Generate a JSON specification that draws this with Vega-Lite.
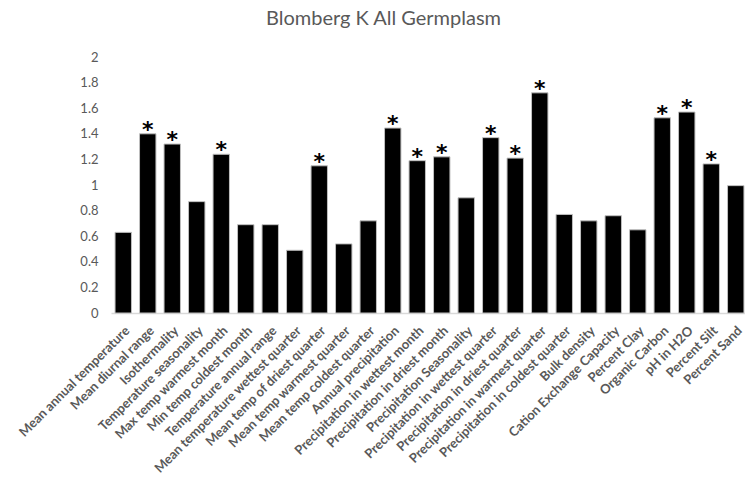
{
  "$schema": "https://vega.github.io/schema/vega-lite/v6.json",
  "autosize": "none",
  "width": 637,
  "height": 256,
  "padding": {"left": 111, "top": 57, "right": 0, "bottom": 180},
  "background": "white",
  "title": {
    "text": "Blomberg K All Germplasm",
    "font": "Lato",
    "fontSize": 20,
    "fontWeight": "normal",
    "color": "#595959",
    "anchor": "middle",
    "dx": -46,
    "offset": 22
  },
  "data": {
    "values": [
      {"trait": "Mean annual temperature", "k": 0.63, "sig": ""},
      {"trait": "Mean diurnal range", "k": 1.40, "sig": "*"},
      {"trait": "Isothermality", "k": 1.32, "sig": "*"},
      {"trait": "Temperature seasonality", "k": 0.87, "sig": ""},
      {"trait": "Max temp warmest month", "k": 1.24, "sig": "*"},
      {"trait": "Min temp coldest month", "k": 0.69, "sig": ""},
      {"trait": "Temperature annual range", "k": 0.69, "sig": ""},
      {"trait": "Mean temperature wettest quarter", "k": 0.49, "sig": ""},
      {"trait": "Mean temp of driest quarter", "k": 1.15, "sig": "*"},
      {"trait": "Mean temp warmest quarter", "k": 0.54, "sig": ""},
      {"trait": "Mean temp coldest quarter", "k": 0.72, "sig": ""},
      {"trait": "Annual precipitation", "k": 1.445, "sig": "*"},
      {"trait": "Precipitation in wettest month", "k": 1.19, "sig": "*"},
      {"trait": "Precipitation in driest month", "k": 1.22, "sig": "*"},
      {"trait": "Precipitation Seasonality", "k": 0.90, "sig": ""},
      {"trait": "Precipitation in wettest quarter", "k": 1.37, "sig": "*"},
      {"trait": "Precipitation in driest quarter", "k": 1.21, "sig": "*"},
      {"trait": "Precipitation in warmest quarter", "k": 1.72, "sig": "*"},
      {"trait": "Precipitation in coldest quarter", "k": 0.77, "sig": ""},
      {"trait": "Bulk density", "k": 0.72, "sig": ""},
      {"trait": "Cation Exchange Capacity", "k": 0.76, "sig": ""},
      {"trait": "Percent Clay", "k": 0.65, "sig": ""},
      {"trait": "Organic Carbon", "k": 1.525, "sig": "*"},
      {"trait": "pH in H2O", "k": 1.57, "sig": "*"},
      {"trait": "Percent Silt", "k": 1.165, "sig": "*"},
      {"trait": "Percent Sand", "k": 0.995, "sig": ""}
    ]
  },
  "encoding": {
    "x": {
      "field": "trait",
      "type": "nominal",
      "sort": null,
      "scale": {"paddingInner": 0.33, "paddingOuter": 0.165},
      "axis": {
        "title": null,
        "labelAngle": -45,
        "labelFont": "Lato",
        "labelFontSize": 13,
        "labelFontWeight": "bold",
        "labelColor": "#595959",
        "labelPadding": 11,
        "labelLimit": 300,
        "ticks": false,
        "domainColor": "#d9d9d9",
        "domainWidth": 1.5
      }
    },
    "y": {
      "field": "k",
      "type": "quantitative",
      "scale": {"domain": [0, 2], "nice": false},
      "axis": {
        "title": null,
        "values": [0, 0.2, 0.4, 0.6, 0.8, 1, 1.2, 1.4, 1.6, 1.8, 2],
        "format": "~g",
        "grid": false,
        "domain": false,
        "ticks": false,
        "labelFont": "Lato",
        "labelFontSize": 13,
        "labelColor": "#595959",
        "labelPadding": 13
      }
    }
  },
  "layer": [
    {
      "mark": {"type": "bar", "fill": "black", "stroke": "#bfbfbf", "strokeWidth": 1}
    },
    {
      "mark": {
        "type": "text",
        "font": "DejaVu Sans",
        "fontSize": 22,
        "fontWeight": "bold",
        "baseline": "alphabetic",
        "dy": 3,
        "fill": "black"
      },
      "encoding": {"text": {"field": "sig"}}
    }
  ],
  "config": {"view": {"stroke": null}}
}
